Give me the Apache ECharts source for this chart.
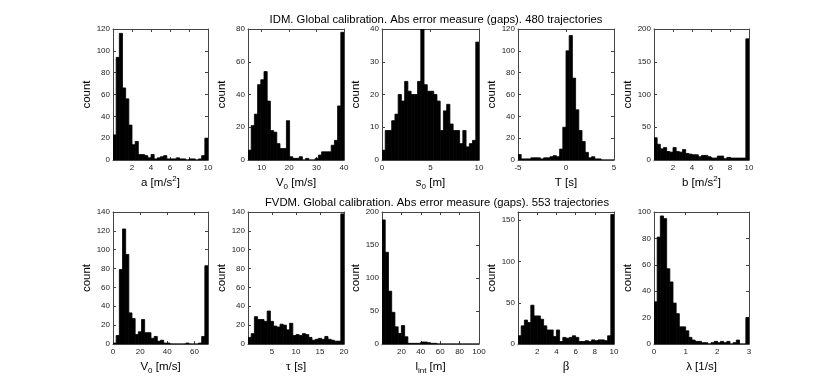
<!DOCTYPE html>
<html style="height: 100%">
<head>
<meta charset="utf-8">
</head>
<body style="height: 100%; margin: 0; background: #fff">
<div id="container" style="width: 830px; height: 387px"></div>
<script type="text/javascript" src="https://cdn.jsdelivr.net/npm/echarts@6/dist/echarts.min.js"></script>
<script type="text/javascript">
// histogram counts, 30 bins each
var idmA = [23, 94, 116, 66, 56, 32, 14, 17, 5, 5, 4, 2, 5, 1, 2, 3, 4, 1, 1, 1, 2, 1, 1, 0, 1, 1, 0, 1, 4, 20];
var idmV0 = [6, 21, 28, 46, 49, 54, 36, 18, 17, 10, 7, 7, 24, 2, 1, 1, 2, 0, 1, 0, 0, 1, 3, 5, 5, 5, 9, 12, 33, 78];
var idmS0 = [3, 9, 9, 12, 14, 20, 18, 24, 21, 20, 20, 24, 40, 23, 21, 21, 20, 18, 9, 15, 17, 11, 9, 9, 5, 9, 4, 5, 6, 36];
var idmT = [5, 1, 1, 1, 2, 2, 2, 1, 2, 2, 3, 4, 3, 10, 30, 100, 114, 75, 46, 27, 17, 7, 2, 3, 1, 1, 0, 0, 0, 0];
var idmB = [34, 24, 17, 19, 13, 12, 19, 13, 12, 16, 10, 9, 8, 8, 5, 7, 7, 5, 3, 3, 6, 6, 2, 4, 3, 3, 3, 3, 3, 185];
var fvdmV0 = [1, 9, 79, 122, 95, 33, 27, 10, 13, 26, 12, 12, 6, 8, 3, 4, 1, 1, 0, 0, 0, 0, 0, 1, 0, 0, 0, 1, 8, 83];
var fvdmTau = [7, 11, 29, 26, 26, 24, 35, 24, 19, 18, 21, 20, 15, 22, 9, 10, 9, 11, 10, 7, 4, 5, 6, 5, 8, 5, 4, 3, 3, 138];
var fvdmLint = [188, 139, 80, 48, 26, 16, 28, 11, 1, 1, 1, 1, 3, 3, 2, 1, 1, 0, 0, 0, 0, 0, 0, 0, 0, 0, 0, 0, 0, 0];
var fvdmBeta = [10, 22, 29, 26, 47, 34, 34, 30, 22, 17, 17, 9, 17, 3, 8, 7, 8, 10, 8, 3, 3, 4, 3, 5, 4, 5, 5, 4, 10, 157];
var fvdmLambda = [32, 81, 97, 95, 57, 47, 31, 23, 13, 13, 10, 5, 3, 2, 2, 1, 1, 0, 1, 2, 1, 2, 1, 2, 0, 1, 3, 0, 0, 20];

// x ranges of the binned data
var idmARange = [0, 10], idmV0Range = [5, 40], idmS0Range = [0, 10], idmTRange = [-5, 5], idmBRange = [0, 10];
var fvdmV0Range = [0, 70], fvdmTauRange = [0, 20], fvdmLintRange = [0, 100], fvdmBetaRange = [0, 10], fvdmLambdaRange = [0, 3];

// tick labels
var idmAXTicks = [2, 4, 6, 8, 10], idmAYTicks = [0, 20, 40, 60, 80, 100, 120];
var idmV0XTicks = [10, 20, 30, 40], idmV0YTicks = [0, 20, 40, 60, 80];
var idmS0XTicks = [0, 5, 10], idmS0YTicks = [0, 10, 20, 30, 40];
var idmTXTicks = [-5, 0, 5], idmTYTicks = [0, 20, 40, 60, 80, 100, 120];
var idmBXTicks = [2, 4, 6, 8, 10], idmBYTicks = [0, 50, 100, 150, 200];
var fvdmV0XTicks = [0, 20, 40, 60], fvdmV0YTicks = [0, 20, 40, 60, 80, 100, 120, 140];
var fvdmTauXTicks = [5, 10, 15, 20], fvdmTauYTicks = [0, 20, 40, 60, 80, 100, 120, 140];
var fvdmLintXTicks = [20, 40, 60, 80, 100], fvdmLintYTicks = [0, 50, 100, 150, 200];
var fvdmBetaXTicks = [2, 4, 6, 8, 10], fvdmBetaYTicks = [0, 50, 100, 150];
var fvdmLambdaXTicks = [0, 1, 2, 3], fvdmLambdaYTicks = [0, 20, 40, 60, 80, 100];

var yMax = [120, 80, 40, 120, 200, 140, 140, 200, 160, 100];

var titles = [
    'IDM. Global calibration. Abs error measure (gaps). 480 trajectories',
    'FVDM. Global calibration. Abs error measure (gaps). 553 trajectories'
];

var FONT = 'Liberation Sans, Arial, Helvetica, sans-serif';
var AXIS = '#444';

var panels = [
    [idmA, idmARange, idmAXTicks, idmAYTicks, '{n|a [m/s}{sup|2}{n|]}'],
    [idmV0, idmV0Range, idmV0XTicks, idmV0YTicks, '{n|V}{sub|0}{n| [m/s]}'],
    [idmS0, idmS0Range, idmS0XTicks, idmS0YTicks, '{n|s}{sub|0}{n| [m]}'],
    [idmT, idmTRange, idmTXTicks, idmTYTicks, '{n|T [s]}'],
    [idmB, idmBRange, idmBXTicks, idmBYTicks, '{n|b [m/s}{sup|2}{n|]}'],
    [fvdmV0, fvdmV0Range, fvdmV0XTicks, fvdmV0YTicks, '{n|V}{sub|0}{n| [m/s]}'],
    [fvdmTau, fvdmTauRange, fvdmTauXTicks, fvdmTauYTicks, '{g|τ}{n| [s]}'],
    [fvdmLint, fvdmLintRange, fvdmLintXTicks, fvdmLintYTicks, '{n|l}{sub|int}{n| [m]}'],
    [fvdmBeta, fvdmBetaRange, fvdmBetaXTicks, fvdmBetaYTicks, '{g|β}'],
    [fvdmLambda, fvdmLambdaRange, fvdmLambdaXTicks, fvdmLambdaYTicks, '{n|λ [1/s]}']
];

var colLeft = [113, 248, 382, 518, 654];
var colWidth = [95, 96, 97, 96, 95];
var rowTop = [29, 212];
var rowHeight = [131, 132];

var nameRich = {
    n: { fontSize: 11.5, fontFamily: FONT, color: '#000', lineHeight: 16, verticalAlign: 'middle' },
    g: { fontSize: 13, fontFamily: 'Liberation Serif, serif', color: '#000', lineHeight: 16, verticalAlign: 'middle' },
    sup: { fontSize: 8, fontFamily: FONT, color: '#000', lineHeight: 8, verticalAlign: 'top' },
    sub: { fontSize: 8, fontFamily: FONT, color: '#000', lineHeight: 8, verticalAlign: 'bottom' }
};

var grids = [], xAxes = [], yAxes = [], series = [];

panels.forEach(function (p, i) {
    var counts = p[0], lo = p[1][0], hi = p[1][1], xt = p[2], yt = p[3];
    var w = (hi - lo) / counts.length;
    var row = i < 5 ? 0 : 1, col = i % 5;
    grids.push({ left: colLeft[col], top: rowTop[row], width: colWidth[col], height: rowHeight[row] });

    var tickStyle = { inside: true, length: 3, lineStyle: { color: AXIS, width: 1 } };
    xAxes.push({
        type: 'value', gridIndex: i, min: lo, max: hi, position: 'bottom',
        splitLine: { show: false },
        axisLine: { show: true, onZero: false, lineStyle: { color: AXIS, width: 1 } },
        axisTick: Object.assign({ customValues: xt }, tickStyle),
        axisLabel: { customValues: xt, fontSize: 8, color: '#222', margin: 4, fontFamily: FONT },
        name: p[4], nameLocation: 'middle', nameGap: 15,
        nameTextStyle: { rich: nameRich, fontFamily: FONT, fontSize: 11.5, color: '#000' }
    });
    xAxes.push({
        type: 'value', gridIndex: i, min: lo, max: hi, position: 'top',
        splitLine: { show: false },
        axisLine: { show: true, onZero: false, lineStyle: { color: AXIS, width: 1 } },
        axisTick: Object.assign({ customValues: xt }, tickStyle),
        axisLabel: { show: false }
    });
    yAxes.push({
        type: 'value', gridIndex: i, min: 0, max: yMax[i], position: 'left',
        splitLine: { show: false },
        axisLine: { show: true, onZero: false, lineStyle: { color: AXIS, width: 1 } },
        axisTick: Object.assign({ customValues: yt }, tickStyle),
        axisLabel: { customValues: yt, fontSize: 8, color: '#222', margin: 3, fontFamily: FONT },
        name: 'count', nameLocation: 'middle', nameGap: 20,
        nameTextStyle: { fontFamily: FONT, fontSize: 11.5, color: '#000' }
    });
    yAxes.push({
        type: 'value', gridIndex: i, min: 0, max: yMax[i], position: 'right',
        splitLine: { show: false },
        axisLine: { show: true, onZero: false, lineStyle: { color: AXIS, width: 1 } },
        axisTick: Object.assign({ customValues: yt }, tickStyle),
        axisLabel: { show: false }
    });

    var data = counts.map(function (c, k) {
        return [lo + k * w, lo + (k + 1) * w, c];
    });
    series.push({
        type: 'custom',
        xAxisIndex: 2 * i,
        yAxisIndex: 2 * i,
        clip: true,
        encode: { x: [0, 1], y: 2 },
        data: data,
        renderItem: function (params, api) {
            var p0 = api.coord([api.value(0), 0]);
            var p1 = api.coord([api.value(1), api.value(2)]);
            return {
                type: 'rect',
                shape: { x: p0[0], y: p1[1], width: p1[0] - p0[0], height: p0[1] - p1[1] },
                style: { fill: '#000', stroke: '#000', lineWidth: 0.8 }
            };
        }
    });
});

var dom = document.getElementById('container');
var myChart = echarts.init(dom);

var option = {
    backgroundColor: '#fff',
    animation: false,
    title: [
        { text: titles[0], left: 431, top: 9, textAlign: 'center',
          textStyle: { fontFamily: FONT, fontSize: 11.3, fontWeight: 'normal', color: '#000' } },
        { text: titles[1], left: 432, top: 192, textAlign: 'center',
          textStyle: { fontFamily: FONT, fontSize: 11.3, fontWeight: 'normal', color: '#000' } }
    ],
    grid: grids,
    xAxis: xAxes,
    yAxis: yAxes,
    series: series
};

myChart.setOption(option, true);
</script>
</body>
</html>
